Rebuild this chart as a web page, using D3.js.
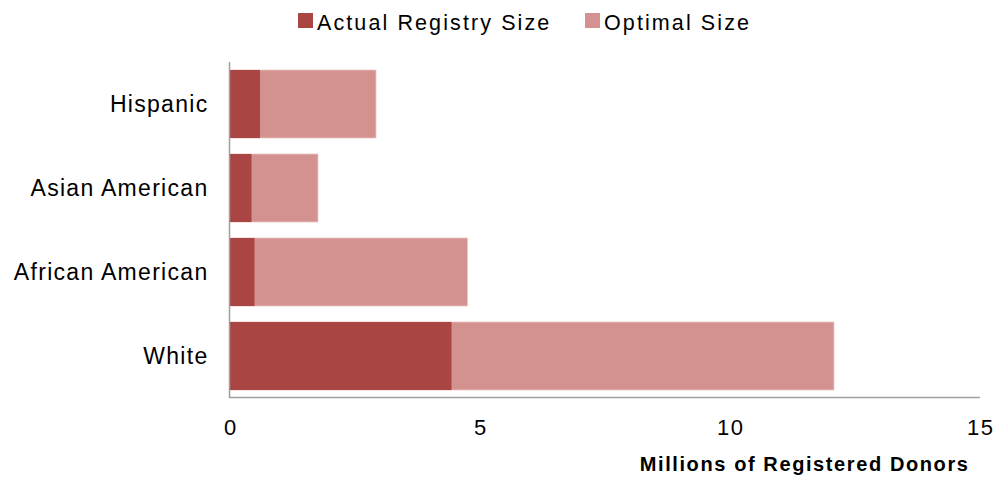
<!DOCTYPE html>
<html>
<head>
<meta charset="utf-8">
<script src="https://cdn.jsdelivr.net/npm/d3@7"></script>
<style>
  body { margin: 0; background: #fff; }
  svg { font-family: "Liberation Sans", Arial, sans-serif; }
</style>
</head>
<body>
<div id="chart"></div>
<script>
// registry sizes, millions of donors
let groups = ['Hispanic', 'Asian American', 'African American', 'White'];
let actualSize = [0.6, 0.43, 0.49, 4.43];
let optimalSize = [2.92, 1.76, 4.75, 12.08];
let xTicks = [0, 5, 10, 15];

let width = 995;
let height = 477;

let svg = d3.select('#chart')
	.append('svg')
	.attr('width', width)
	.attr('height', height);

let x = d3.scaleLinear()
	.domain([0, 15])
	.range([230, 980]);

let y = d3.scaleBand()
	.domain(groups)
	.range([62, 398])
	.paddingInner(0.19)
	.paddingOuter(0.095);

let rows = groups.map(function(g, i){
	return {name: g, actual: actualSize[i], optimal: optimalSize[i]};
});

// optimal bars behind, actual on top
svg.append('g')
	.selectAll('rect')
	.data(rows)
	.enter()
	.append('rect')
	.attr('x', x(0))
	.attr('y', function(d){ return y(d.name); })
	.attr('width', function(d){ return x(d.optimal) - x(0); })
	.attr('height', y.bandwidth())
	.attr('fill', '#d39190')
	.attr('stroke', '#ecc9c9')
	.attr('stroke-width', 0.8);

svg.append('g')
	.selectAll('rect')
	.data(rows)
	.enter()
	.append('rect')
	.attr('x', x(0))
	.attr('y', function(d){ return y(d.name); })
	.attr('width', function(d){ return x(d.actual) - x(0); })
	.attr('height', y.bandwidth())
	.attr('fill', '#a94644');

// axes lines
svg.append('line')
	.attr('x1', x(0) - 0.5).attr('x2', x(0) - 0.5)
	.attr('y1', 62).attr('y2', 398)
	.attr('stroke', '#a0a0a0')
	.attr('stroke-width', 1.5);

svg.append('line')
	.attr('x1', x(0) - 1).attr('x2', x(15))
	.attr('y1', 397.5).attr('y2', 397.5)
	.attr('stroke', '#a0a0a0')
	.attr('stroke-width', 1.5);

// category labels
svg.append('g')
	.selectAll('text')
	.data(groups)
	.enter()
	.append('text')
	.text(function(d){ return d; })
	.attr('x', 208.5)
	.attr('y', function(d){ return y(d) + y.bandwidth() / 2; })
	.attr('dy', '0.35em')
	.attr('text-anchor', 'end')
	.attr('font-size', 23)
	.attr('letter-spacing', 1.3)
	.attr('fill', '#000');

// tick labels
svg.append('g')
	.selectAll('text')
	.data(xTicks)
	.enter()
	.append('text')
	.text(function(d){ return d; })
	.attr('x', function(d){ return x(d) + 0.8; })
	.attr('y', 435)
	.attr('text-anchor', 'middle')
	.attr('font-size', 22)
	.attr('letter-spacing', 1.5)
	.attr('fill', '#000');

svg.append('text')
	.text('Millions of Registered Donors')
	.attr('x', 969.5)
	.attr('y', 471)
	.attr('text-anchor', 'end')
	.attr('font-size', 20)
	.attr('font-weight', 'bold')
	.attr('letter-spacing', 1.6)
	.attr('fill', '#000');

// legend
let legend = [
	{label: 'Actual Registry Size', color: '#a94644', x: 298},
	{label: 'Optimal Size', color: '#d39190', x: 585}
];
let lg = svg.append('g');
legend.forEach(function(l){
	lg.append('rect')
		.attr('x', l.x)
		.attr('y', 13)
		.attr('width', 15)
		.attr('height', 15)
		.attr('fill', l.color);
	lg.append('text')
		.text(l.label)
		.attr('x', l.x + 19)
		.attr('y', 29.5)
		.attr('font-size', 21.5)
		.attr('letter-spacing', 2.1)
		.attr('fill', '#000');
});
</script>
</body>
</html>
